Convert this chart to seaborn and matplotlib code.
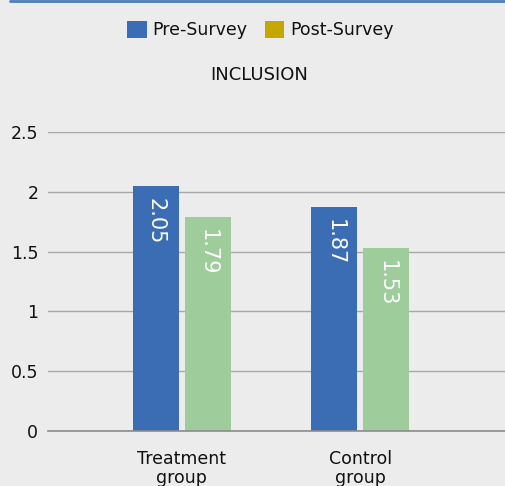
import pandas as pd
import matplotlib.pyplot as plt
import seaborn as sns
from matplotlib.patches import Patch
from matplotlib.lines import Line2D

# données
groupes = ["Treatment\ngroup", "Control\ngroup"]
pre_survey = [2.05, 1.87]
post_survey = [1.79, 1.53]
series = ["Pre-Survey", "Post-Survey"]
couleurs_barres = ["#3a6db4", "#9ecd9b"]
couleurs_legende = ["#3a6db4", "#c4a800"]

df = pd.DataFrame({
    "groupe": groupes * 2,
    "score": pre_survey + post_survey,
    "serie": [series[0]] * 2 + [series[1]] * 2,
})

sns.set_style("white")
plt.rcParams["font.family"] = ["DejaVu Sans"]
fond = "#ececec"

fig = plt.figure(figsize=(5.06, 4.86), dpi=100, facecolor=fond)
ax = fig.add_axes([48 / 506, 1 - 431 / 486, 1 - 48 / 506, (431 - 132) / 486])
ax.set_facecolor(fond)

sns.barplot(data=df, x="groupe", y="score", hue="serie", palette=couleurs_barres,
            width=0.5826, gap=0.115, saturation=1, legend=False, linewidth=0, ax=ax)

for cont, vals in zip(ax.containers, [pre_survey, post_survey]):
    for bar, v in zip(cont, vals):
        ax.annotate(f"{v:.2f}", (bar.get_x() + bar.get_width() / 2, bar.get_height()),
                    xytext=(0, -8.5), textcoords="offset points", ha="center", va="top",
                    rotation=-90, color="white", fontsize=15)

ax.set_ylim(0, 2.5)
ax.set_xlim(-0.75, 1.816)
ax.set_yticks([0, 0.5, 1, 1.5, 2, 2.5])
ax.set_yticklabels(["0", "0.5", "1", "1.5", "2", "2.5"])
ax.yaxis.grid(True, color="#a8a8a8", linewidth=1)
ax.set_axisbelow(True)
ax.tick_params(axis="both", length=0, labelsize=12.5, colors="#111111")
ax.tick_params(axis="y", pad=7)
ax.tick_params(axis="x", pad=14)
ax.set_xlabel("")
ax.set_ylabel("")
sns.despine(ax=ax, left=True, top=True, right=True)
ax.spines["bottom"].set_color("#8c8c8c")
ax.spines["bottom"].set_linewidth(1.2)

for lbl in ax.get_xticklabels():
    lbl.set_linespacing(1.05)

handles = [Patch(facecolor=c, edgecolor="none", label=s) for c, s in zip(couleurs_legende, series)]
fig.legend(handles=handles, loc="center", bbox_to_anchor=(0.515, 1 - 30 / 486), ncol=2,
           frameon=False, fontsize=12.5, handlelength=1.1, handleheight=1.1,
           handletextpad=0.35, columnspacing=1.0, labelcolor="#111111")

fig.text(0.513, 1 - 75 / 486, "INCLUSION", ha="center", va="center", fontsize=13, color="#111111")

fig.add_artist(Line2D([10 / 506, 1], [1 - 1 / 486, 1 - 1 / 486], color="#4a7ebb", linewidth=2))

fig.savefig("out.png", dpi=100, facecolor=fond)
